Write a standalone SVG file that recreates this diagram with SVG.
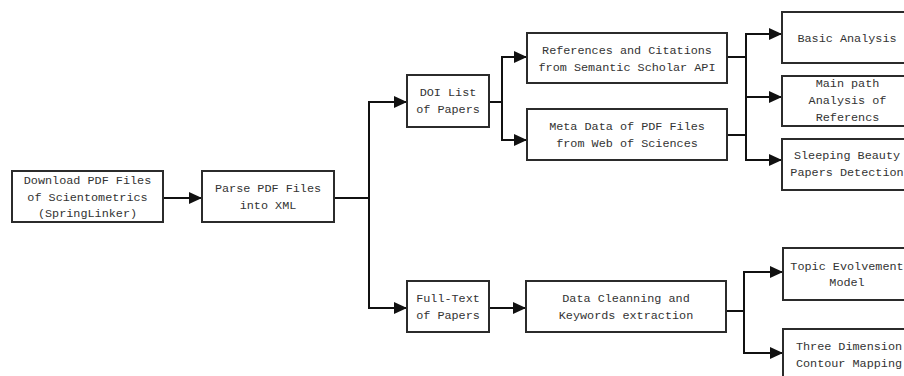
<svg xmlns="http://www.w3.org/2000/svg" width="904" height="376" viewBox="0 0 904 376">
  <style>
    .box { fill: #ffffff; stroke: #2b2b2b; stroke-width: 2; }
    .lbl { font-family: "Liberation Mono", "DejaVu Sans Mono", monospace; font-size: 11.8px; fill: #333333; text-anchor: middle; }
    .wire { fill: none; stroke: #111111; stroke-width: 2; }
  </style>
  <defs>
    <marker id="arrow" markerUnits="userSpaceOnUse" markerWidth="13" markerHeight="12" refX="13" refY="6" orient="auto">
      <path d="M0,0 L13,6 L0,12 z" fill="#111111"/>
    </marker>
  </defs>
  <rect width="904" height="376" fill="#ffffff"/>

  <g id="connectors">
    <path class="wire" d="M163,198 H202" marker-end="url(#arrow)"/>
    <path class="wire" d="M334,198 H369"/>
    <path class="wire" d="M369,198 V102 H407" marker-end="url(#arrow)"/>
    <path class="wire" d="M369,198 V308 H407" marker-end="url(#arrow)"/>
    <path class="wire" d="M489,102 H502"/>
    <path class="wire" d="M502,102 V57 H527" marker-end="url(#arrow)"/>
    <path class="wire" d="M502,102 V140 H527" marker-end="url(#arrow)"/>
    <path class="wire" d="M727,57 H746 M727,135 H746"/>
    <path class="wire" d="M746,97 V34 H782" marker-end="url(#arrow)"/>
    <path class="wire" d="M746,97 H782" marker-end="url(#arrow)"/>
    <path class="wire" d="M746,97 V160 H782" marker-end="url(#arrow)"/>
    <path class="wire" d="M489,308 H526" marker-end="url(#arrow)"/>
    <path class="wire" d="M726,311 H744"/>
    <path class="wire" d="M744,311 V272 H783" marker-end="url(#arrow)"/>
    <path class="wire" d="M744,311 V353 H783" marker-end="url(#arrow)"/>
  </g>

  <g id="download">
    <rect class="box" x="12" y="171" width="151" height="51"/>
    <text class="lbl" x="87.5" y="184">Download PDF Files</text>
    <text class="lbl" x="87.5" y="200.5">of Scientometrics</text>
    <text class="lbl" x="87.5" y="217">(SpringLinker)</text>
  </g>

  <g id="parse">
    <rect class="box" x="202" y="171" width="132" height="51"/>
    <text class="lbl" x="268" y="192">Parse PDF Files</text>
    <text class="lbl" x="268" y="209">into XML</text>
  </g>

  <g id="doi-list">
    <rect class="box" x="407" y="75" width="82" height="52"/>
    <text class="lbl" x="448" y="96">DOI List</text>
    <text class="lbl" x="448" y="112.5">of Papers</text>
  </g>

  <g id="references">
    <rect class="box" x="527" y="33" width="200" height="50"/>
    <text class="lbl" x="627" y="54">References and Citations</text>
    <text class="lbl" x="627" y="71">from Semantic Scholar API</text>
  </g>

  <g id="metadata">
    <rect class="box" x="527" y="109" width="200" height="51"/>
    <text class="lbl" x="627" y="130">Meta Data of PDF Files</text>
    <text class="lbl" x="627" y="147">from Web of Sciences</text>
  </g>

  <g id="basic-analysis">
    <rect class="box" x="782" y="12" width="130" height="51"/>
    <text class="lbl" x="847" y="41.5">Basic Analysis</text>
  </g>

  <g id="main-path">
    <rect class="box" x="782" y="76" width="130" height="50"/>
    <text class="lbl" x="847.5" y="87">Main path</text>
    <text class="lbl" x="847.5" y="104">Analysis of</text>
    <text class="lbl" x="847.5" y="121">Referencs</text>
  </g>

  <g id="sleeping-beauty">
    <rect class="box" x="782" y="139" width="130" height="51"/>
    <text class="lbl" x="847" y="159">Sleeping Beauty</text>
    <text class="lbl" x="847" y="176">Papers Detection</text>
  </g>

  <g id="full-text">
    <rect class="box" x="407" y="281" width="82" height="51"/>
    <text class="lbl" x="448" y="302">Full-Text</text>
    <text class="lbl" x="448" y="319">of Papers</text>
  </g>

  <g id="data-cleaning">
    <rect class="box" x="526" y="281" width="200" height="51"/>
    <text class="lbl" x="626" y="302">Data Cleanning and</text>
    <text class="lbl" x="626" y="319">Keywords extraction</text>
  </g>

  <g id="topic-evolvement">
    <rect class="box" x="783" y="248" width="132" height="52"/>
    <text class="lbl" x="847" y="270">Topic Evolvement</text>
    <text class="lbl" x="847" y="286">Model</text>
  </g>

  <g id="contour-mapping">
    <rect class="box" x="783" y="329" width="132" height="60"/>
    <text class="lbl" x="849" y="350">Three Dimension</text>
    <text class="lbl" x="849" y="367">Contour Mapping</text>
  </g>
</svg>
